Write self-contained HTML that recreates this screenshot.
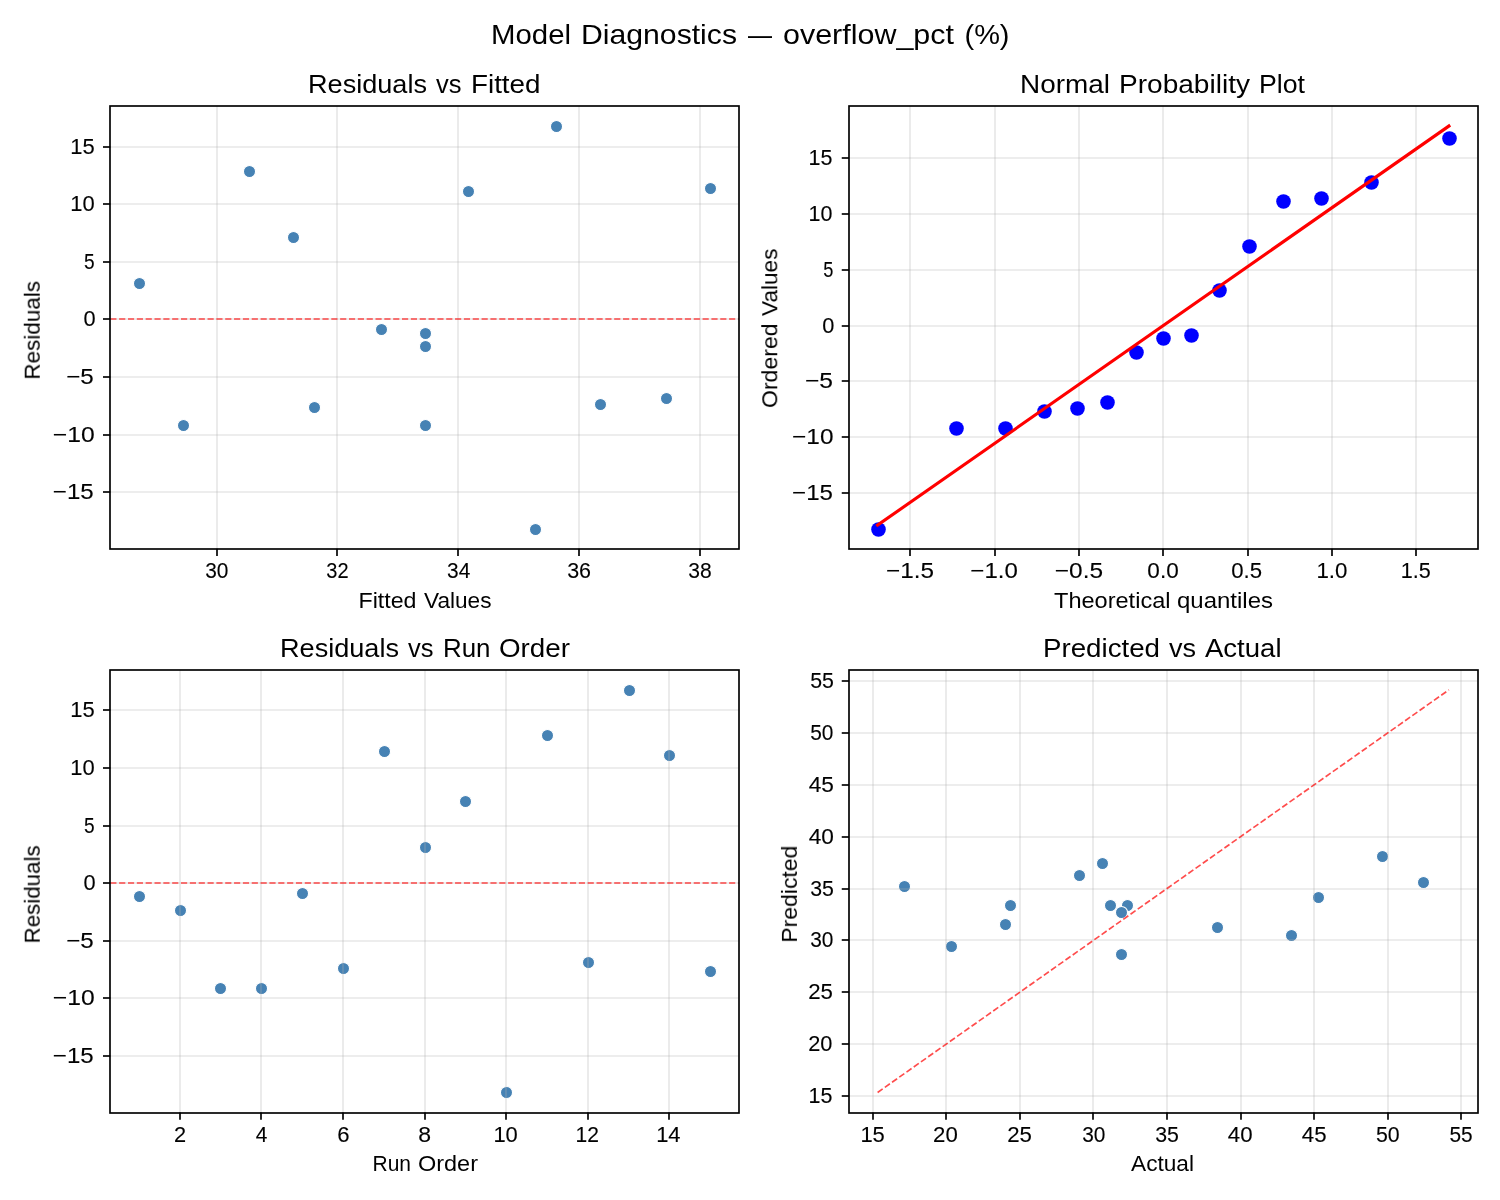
<!DOCTYPE html>
<html lang="en"><head><meta charset="utf-8"><title>Model Diagnostics</title>
<style>
html,body{margin:0;padding:0;background:#fff;}
body{width:1500px;height:1200px;overflow:hidden;}
svg{display:block;}
text{font-family:"Liberation Sans",sans-serif;fill:#000;}
.tk{font-size:22px;stroke:#000;stroke-width:0.12px;}
.lb{font-size:21.6px;}
.tt{font-size:25.8px;}
.st{font-size:28px;}
.grid line{stroke:#b0b0b0;stroke-opacity:.3;stroke-width:1.667;}
.ticks line{stroke:#000;stroke-width:1.667;}
.frame{fill:none;stroke:#000;stroke-width:1.667;stroke-linejoin:miter;}
.sc circle{fill:#4682b4;stroke:#fff;stroke-width:1.1;}
.pp circle{fill:#00f;}
.dash{stroke:#f00;stroke-opacity:.7;stroke-width:1.667;stroke-dasharray:6.17 2.67;fill:none;}
.fit{stroke:#f00;stroke-width:3.125;stroke-linecap:square;fill:none;}
</style></head><body>
<svg width="1500" height="1200" viewBox="0 0 1500 1200">
<rect width="1500" height="1200" fill="#fff"/>
<g id="ax0">
<g class="sc"><circle cx="425.5" cy="333.5" r="6.05"/><circle cx="425.5" cy="346.5" r="6.05"/><circle cx="183.5" cy="425.5" r="6.05"/><circle cx="425.5" cy="425.5" r="6.05"/><circle cx="381.5" cy="329.5" r="6.05"/><circle cx="600.5" cy="404.5" r="6.05"/><circle cx="710.5" cy="188.5" r="6.05"/><circle cx="139.5" cy="283.5" r="6.05"/><circle cx="293.5" cy="237.5" r="6.05"/><circle cx="535.5" cy="529.5" r="6.05"/><circle cx="249.5" cy="171.5" r="6.05"/><circle cx="666.5" cy="398.5" r="6.05"/><circle cx="556.5" cy="126.5" r="6.05"/><circle cx="468.5" cy="191.5" r="6.05"/><circle cx="314.5" cy="407.5" r="6.05"/></g>
<g class="grid"><line x1="217" y1="105.9" x2="217" y2="548.78"/><line x1="337" y1="105.9" x2="337" y2="548.78"/><line x1="458" y1="105.9" x2="458" y2="548.78"/><line x1="579" y1="105.9" x2="579" y2="548.78"/><line x1="700" y1="105.9" x2="700" y2="548.78"/><line x1="110.29" y1="492" x2="738.75" y2="492"/><line x1="110.29" y1="435" x2="738.75" y2="435"/><line x1="110.29" y1="377" x2="738.75" y2="377"/><line x1="110.29" y1="319" x2="738.75" y2="319"/><line x1="110.29" y1="262" x2="738.75" y2="262"/><line x1="110.29" y1="204" x2="738.75" y2="204"/><line x1="110.29" y1="147" x2="738.75" y2="147"/></g>
<line class="dash" x1="110.29" y1="319" x2="738.75" y2="319"/>
<g class="ticks"><line x1="217" y1="548.78" x2="217" y2="556.07"/><line x1="337" y1="548.78" x2="337" y2="556.07"/><line x1="458" y1="548.78" x2="458" y2="556.07"/><line x1="579" y1="548.78" x2="579" y2="556.07"/><line x1="700" y1="548.78" x2="700" y2="556.07"/><line x1="103" y1="492" x2="110.29" y2="492"/><line x1="103" y1="435" x2="110.29" y2="435"/><line x1="103" y1="377" x2="110.29" y2="377"/><line x1="103" y1="319" x2="110.29" y2="319"/><line x1="103" y1="262" x2="110.29" y2="262"/><line x1="103" y1="204" x2="110.29" y2="204"/><line x1="103" y1="147" x2="110.29" y2="147"/></g>
<rect class="frame" x="110" y="106" width="629" height="443"/>
</g>
<g id="ax1">
<g class="grid"><line x1="910" y1="105.9" x2="910" y2="548.78"/><line x1="995" y1="105.9" x2="995" y2="548.78"/><line x1="1079" y1="105.9" x2="1079" y2="548.78"/><line x1="1163" y1="105.9" x2="1163" y2="548.78"/><line x1="1248" y1="105.9" x2="1248" y2="548.78"/><line x1="1332" y1="105.9" x2="1332" y2="548.78"/><line x1="1416" y1="105.9" x2="1416" y2="548.78"/><line x1="849.04" y1="493" x2="1477.5" y2="493"/><line x1="849.04" y1="437" x2="1477.5" y2="437"/><line x1="849.04" y1="381" x2="1477.5" y2="381"/><line x1="849.04" y1="326" x2="1477.5" y2="326"/><line x1="849.04" y1="270" x2="1477.5" y2="270"/><line x1="849.04" y1="214" x2="1477.5" y2="214"/><line x1="849.04" y1="158" x2="1477.5" y2="158"/></g>
<g class="pp"><circle cx="878.5" cy="529.5" r="7.29"/><circle cx="956.5" cy="428.5" r="7.29"/><circle cx="1005.5" cy="428.5" r="7.29"/><circle cx="1044.5" cy="411.5" r="7.29"/><circle cx="1077.5" cy="408.5" r="7.29"/><circle cx="1107.5" cy="402.5" r="7.29"/><circle cx="1136.5" cy="352.5" r="7.29"/><circle cx="1163.5" cy="338.5" r="7.29"/><circle cx="1191.5" cy="335.5" r="7.29"/><circle cx="1219.5" cy="290.5" r="7.29"/><circle cx="1249.5" cy="246.5" r="7.29"/><circle cx="1283.5" cy="201.5" r="7.29"/><circle cx="1321.5" cy="198.5" r="7.29"/><circle cx="1371.5" cy="182.5" r="7.29"/><circle cx="1449.5" cy="138.5" r="7.29"/></g>
<line class="fit" x1="877.61" y1="525.12" x2="1448.93" y2="126.03"/>
<g class="ticks"><line x1="910" y1="548.78" x2="910" y2="556.07"/><line x1="995" y1="548.78" x2="995" y2="556.07"/><line x1="1079" y1="548.78" x2="1079" y2="556.07"/><line x1="1163" y1="548.78" x2="1163" y2="556.07"/><line x1="1248" y1="548.78" x2="1248" y2="556.07"/><line x1="1332" y1="548.78" x2="1332" y2="556.07"/><line x1="1416" y1="548.78" x2="1416" y2="556.07"/><line x1="841.75" y1="493" x2="849.04" y2="493"/><line x1="841.75" y1="437" x2="849.04" y2="437"/><line x1="841.75" y1="381" x2="849.04" y2="381"/><line x1="841.75" y1="326" x2="849.04" y2="326"/><line x1="841.75" y1="270" x2="849.04" y2="270"/><line x1="841.75" y1="214" x2="849.04" y2="214"/><line x1="841.75" y1="158" x2="849.04" y2="158"/></g>
<rect class="frame" x="849" y="106" width="629" height="443"/>
</g>
<g id="ax2">
<g class="sc"><circle cx="139.5" cy="896.5" r="6.05"/><circle cx="180.5" cy="910.5" r="6.05"/><circle cx="220.5" cy="988.5" r="6.05"/><circle cx="261.5" cy="988.5" r="6.05"/><circle cx="302.5" cy="893.5" r="6.05"/><circle cx="343.5" cy="968.5" r="6.05"/><circle cx="384.5" cy="751.5" r="6.05"/><circle cx="425.5" cy="847.5" r="6.05"/><circle cx="465.5" cy="801.5" r="6.05"/><circle cx="506.5" cy="1092.5" r="6.05"/><circle cx="547.5" cy="735.5" r="6.05"/><circle cx="588.5" cy="962.5" r="6.05"/><circle cx="629.5" cy="690.5" r="6.05"/><circle cx="669.5" cy="755.5" r="6.05"/><circle cx="710.5" cy="971.5" r="6.05"/></g>
<g class="grid"><line x1="180" y1="669.7" x2="180" y2="1112.58"/><line x1="261" y1="669.7" x2="261" y2="1112.58"/><line x1="343" y1="669.7" x2="343" y2="1112.58"/><line x1="425" y1="669.7" x2="425" y2="1112.58"/><line x1="506" y1="669.7" x2="506" y2="1112.58"/><line x1="588" y1="669.7" x2="588" y2="1112.58"/><line x1="669" y1="669.7" x2="669" y2="1112.58"/><line x1="110.29" y1="1056" x2="738.75" y2="1056"/><line x1="110.29" y1="998" x2="738.75" y2="998"/><line x1="110.29" y1="941" x2="738.75" y2="941"/><line x1="110.29" y1="883" x2="738.75" y2="883"/><line x1="110.29" y1="826" x2="738.75" y2="826"/><line x1="110.29" y1="768" x2="738.75" y2="768"/><line x1="110.29" y1="710" x2="738.75" y2="710"/></g>
<line class="dash" x1="110.29" y1="883" x2="738.75" y2="883"/>
<g class="ticks"><line x1="180" y1="1112.58" x2="180" y2="1119.87"/><line x1="261" y1="1112.58" x2="261" y2="1119.87"/><line x1="343" y1="1112.58" x2="343" y2="1119.87"/><line x1="425" y1="1112.58" x2="425" y2="1119.87"/><line x1="506" y1="1112.58" x2="506" y2="1119.87"/><line x1="588" y1="1112.58" x2="588" y2="1119.87"/><line x1="669" y1="1112.58" x2="669" y2="1119.87"/><line x1="103" y1="1056" x2="110.29" y2="1056"/><line x1="103" y1="998" x2="110.29" y2="998"/><line x1="103" y1="941" x2="110.29" y2="941"/><line x1="103" y1="883" x2="110.29" y2="883"/><line x1="103" y1="826" x2="110.29" y2="826"/><line x1="103" y1="768" x2="110.29" y2="768"/><line x1="103" y1="710" x2="110.29" y2="710"/></g>
<rect class="frame" x="110" y="670" width="629" height="443"/>
</g>
<g id="ax3">
<g class="sc"><circle cx="1127.5" cy="905.5" r="6.05"/><circle cx="1110.5" cy="905.5" r="6.05"/><circle cx="951.5" cy="946.5" r="6.05"/><circle cx="1010.5" cy="905.5" r="6.05"/><circle cx="1121.5" cy="912.5" r="6.05"/><circle cx="1079.5" cy="875.5" r="6.05"/><circle cx="1382.5" cy="856.5" r="6.05"/><circle cx="1121.5" cy="954.5" r="6.05"/><circle cx="1217.5" cy="927.5" r="6.05"/><circle cx="904.5" cy="886.5" r="6.05"/><circle cx="1291.5" cy="935.5" r="6.05"/><circle cx="1102.5" cy="863.5" r="6.05"/><circle cx="1423.5" cy="882.5" r="6.05"/><circle cx="1318.5" cy="897.5" r="6.05"/><circle cx="1005.5" cy="924.5" r="6.05"/></g>
<g class="grid"><line x1="873" y1="669.7" x2="873" y2="1112.58"/><line x1="946" y1="669.7" x2="946" y2="1112.58"/><line x1="1020" y1="669.7" x2="1020" y2="1112.58"/><line x1="1093" y1="669.7" x2="1093" y2="1112.58"/><line x1="1167" y1="669.7" x2="1167" y2="1112.58"/><line x1="1241" y1="669.7" x2="1241" y2="1112.58"/><line x1="1314" y1="669.7" x2="1314" y2="1112.58"/><line x1="1388" y1="669.7" x2="1388" y2="1112.58"/><line x1="1461" y1="669.7" x2="1461" y2="1112.58"/><line x1="849.04" y1="1096" x2="1477.5" y2="1096"/><line x1="849.04" y1="1044" x2="1477.5" y2="1044"/><line x1="849.04" y1="992" x2="1477.5" y2="992"/><line x1="849.04" y1="940" x2="1477.5" y2="940"/><line x1="849.04" y1="889" x2="1477.5" y2="889"/><line x1="849.04" y1="837" x2="1477.5" y2="837"/><line x1="849.04" y1="785" x2="1477.5" y2="785"/><line x1="849.04" y1="733" x2="1477.5" y2="733"/><line x1="849.04" y1="681" x2="1477.5" y2="681"/></g>
<line class="dash" x1="877.61" y1="1092.45" x2="1448.93" y2="689.83"/>
<g class="ticks"><line x1="873" y1="1112.58" x2="873" y2="1119.87"/><line x1="946" y1="1112.58" x2="946" y2="1119.87"/><line x1="1020" y1="1112.58" x2="1020" y2="1119.87"/><line x1="1093" y1="1112.58" x2="1093" y2="1119.87"/><line x1="1167" y1="1112.58" x2="1167" y2="1119.87"/><line x1="1241" y1="1112.58" x2="1241" y2="1119.87"/><line x1="1314" y1="1112.58" x2="1314" y2="1119.87"/><line x1="1388" y1="1112.58" x2="1388" y2="1119.87"/><line x1="1461" y1="1112.58" x2="1461" y2="1119.87"/><line x1="841.75" y1="1096" x2="849.04" y2="1096"/><line x1="841.75" y1="1044" x2="849.04" y2="1044"/><line x1="841.75" y1="992" x2="849.04" y2="992"/><line x1="841.75" y1="940" x2="849.04" y2="940"/><line x1="841.75" y1="889" x2="849.04" y2="889"/><line x1="841.75" y1="837" x2="849.04" y2="837"/><line x1="841.75" y1="785" x2="849.04" y2="785"/><line x1="841.75" y1="733" x2="849.04" y2="733"/><line x1="841.75" y1="681" x2="849.04" y2="681"/></g>
<rect class="frame" x="849" y="670" width="629" height="443"/>
</g>
<g id="labels" opacity="0.999">
<text id="a0x0" class="tk" x="205.14" y="578.37" textLength="23.25" lengthAdjust="spacingAndGlyphs">30</text>
<text id="a0x1" class="tk" x="326.34" y="578.37" textLength="22.25" lengthAdjust="spacingAndGlyphs">32</text>
<text id="a0x2" class="tk" x="447.04" y="578.37" textLength="23.25" lengthAdjust="spacingAndGlyphs">34</text>
<text id="a0x3" class="tk" x="567.15" y="578.37" textLength="23.93" lengthAdjust="spacingAndGlyphs">36</text>
<text id="a0x4" class="tk" x="688.34" y="578.37" textLength="23.44" lengthAdjust="spacingAndGlyphs">38</text>
<text id="a0y0" class="tk" x="52.83" y="499.39" textLength="40.88" lengthAdjust="spacingAndGlyphs">−15</text>
<text id="a0y1" class="tk" x="52.83" y="442.3" textLength="41.88" lengthAdjust="spacingAndGlyphs">−10</text>
<text id="a0y2" class="tk" x="66.15" y="384.46" textLength="27.56" lengthAdjust="spacingAndGlyphs">−5</text>
<text id="a0y3" class="tk" x="83.58" y="326.37" textLength="12.13" lengthAdjust="spacingAndGlyphs">0</text>
<text id="a0y4" class="tk" x="84.08" y="269.28" textLength="10.63" lengthAdjust="spacingAndGlyphs">5</text>
<text id="a0y5" class="tk" x="70.27" y="211.44" textLength="24.44" lengthAdjust="spacingAndGlyphs">10</text>
<text id="a0y6" class="tk" x="70.27" y="154.35" textLength="24.44" lengthAdjust="spacingAndGlyphs">15</text>
<text id="a0title" class="tt" y="93.4"><tspan x="308" textLength="119" lengthAdjust="spacingAndGlyphs">Residuals</tspan> <tspan x="436" textLength="25.5" lengthAdjust="spacingAndGlyphs">vs</tspan> <tspan x="471" textLength="69.5" lengthAdjust="spacingAndGlyphs">Fitted</tspan></text>
<text id="a0xl" class="lb" y="607.7"><tspan x="358.5" textLength="58" lengthAdjust="spacingAndGlyphs">Fitted</tspan> <tspan x="424" textLength="67.5" lengthAdjust="spacingAndGlyphs">Values</tspan></text>
<text id="a0yl" class="lb" transform="translate(39.75 379.65) rotate(-90)" textLength="98.62" lengthAdjust="spacingAndGlyphs">Residuals</text>
<text id="a1x0" class="tk" x="886.06" y="578.37" textLength="47.94" lengthAdjust="spacingAndGlyphs">−1.5</text>
<text id="a1x1" class="tk" x="970.39" y="578.37" textLength="47.44" lengthAdjust="spacingAndGlyphs">−1.0</text>
<text id="a1x2" class="tk" x="1054.82" y="578.37" textLength="48.25" lengthAdjust="spacingAndGlyphs">−0.5</text>
<text id="a1x3" class="tk" x="1147.36" y="578.37" textLength="31.32" lengthAdjust="spacingAndGlyphs">0.0</text>
<text id="a1x4" class="tk" x="1231.19" y="578.37" textLength="30.82" lengthAdjust="spacingAndGlyphs">0.5</text>
<text id="a1x5" class="tk" x="1316.43" y="578.37" textLength="31" lengthAdjust="spacingAndGlyphs">1.0</text>
<text id="a1x6" class="tk" x="1400.76" y="578.37" textLength="30" lengthAdjust="spacingAndGlyphs">1.5</text>
<text id="a1y0" class="tk" x="792.08" y="500.47" textLength="40.88" lengthAdjust="spacingAndGlyphs">−15</text>
<text id="a1y1" class="tk" x="792.08" y="444.33" textLength="41.38" lengthAdjust="spacingAndGlyphs">−10</text>
<text id="a1y2" class="tk" x="804.9" y="388.45" textLength="28.06" lengthAdjust="spacingAndGlyphs">−5</text>
<text id="a1y3" class="tk" x="822.33" y="333.31" textLength="12.13" lengthAdjust="spacingAndGlyphs">0</text>
<text id="a1y4" class="tk" x="823.33" y="277.42" textLength="10.13" lengthAdjust="spacingAndGlyphs">5</text>
<text id="a1y5" class="tk" x="808.52" y="221.29" textLength="23.94" lengthAdjust="spacingAndGlyphs">10</text>
<text id="a1y6" class="tk" x="808.52" y="165.4" textLength="23.94" lengthAdjust="spacingAndGlyphs">15</text>
<text id="a1title" class="tt" y="93.4"><tspan x="1020" textLength="90" lengthAdjust="spacingAndGlyphs">Normal</tspan> <tspan x="1119" textLength="131" lengthAdjust="spacingAndGlyphs">Probability</tspan> <tspan x="1259" textLength="46" lengthAdjust="spacingAndGlyphs">Plot</tspan></text>
<text id="a1xl" class="lb" y="607.95"><tspan x="1054" textLength="116.5" lengthAdjust="spacingAndGlyphs">Theoretical</tspan> <tspan x="1177" textLength="96" lengthAdjust="spacingAndGlyphs">quantiles</tspan></text>
<text id="a1yl" class="lb" transform="translate(777.25 407.03) rotate(-90)"><tspan x="-0.97" textLength="84.5" lengthAdjust="spacingAndGlyphs">Ordered</tspan> <tspan x="91.03" textLength="67.5" lengthAdjust="spacingAndGlyphs">Values</tspan></text>
<text id="a2x0" class="tk" x="174.1" y="1142.42" textLength="12.13" lengthAdjust="spacingAndGlyphs">2</text>
<text id="a2x1" class="tk" x="255.72" y="1142.42" textLength="11.63" lengthAdjust="spacingAndGlyphs">4</text>
<text id="a2x2" class="tk" x="337.25" y="1142.42" textLength="12.31" lengthAdjust="spacingAndGlyphs">6</text>
<text id="a2x3" class="tk" x="418.36" y="1142.42" textLength="12.82" lengthAdjust="spacingAndGlyphs">8</text>
<text id="a2x4" class="tk" x="493.42" y="1142.42" textLength="24.44" lengthAdjust="spacingAndGlyphs">10</text>
<text id="a2x5" class="tk" x="575.54" y="1142.42" textLength="23.44" lengthAdjust="spacingAndGlyphs">12</text>
<text id="a2x6" class="tk" x="656.16" y="1142.42" textLength="24.43" lengthAdjust="spacingAndGlyphs">14</text>
<text id="a2y0" class="tk" x="52.83" y="1063.44" textLength="40.88" lengthAdjust="spacingAndGlyphs">−15</text>
<text id="a2y1" class="tk" x="52.83" y="1005.35" textLength="41.88" lengthAdjust="spacingAndGlyphs">−10</text>
<text id="a2y2" class="tk" x="66.15" y="948.26" textLength="27.56" lengthAdjust="spacingAndGlyphs">−5</text>
<text id="a2y3" class="tk" x="83.58" y="890.42" textLength="12.13" lengthAdjust="spacingAndGlyphs">0</text>
<text id="a2y4" class="tk" x="84.08" y="833.33" textLength="10.63" lengthAdjust="spacingAndGlyphs">5</text>
<text id="a2y5" class="tk" x="70.27" y="775.49" textLength="24.44" lengthAdjust="spacingAndGlyphs">10</text>
<text id="a2y6" class="tk" x="70.27" y="717.4" textLength="24.44" lengthAdjust="spacingAndGlyphs">15</text>
<text id="a2title" class="tt" y="657.2"><tspan x="280" textLength="119" lengthAdjust="spacingAndGlyphs">Residuals</tspan> <tspan x="408" textLength="25.5" lengthAdjust="spacingAndGlyphs">vs</tspan> <tspan x="443" textLength="47.5" lengthAdjust="spacingAndGlyphs">Run</tspan> <tspan x="499" textLength="71" lengthAdjust="spacingAndGlyphs">Order</tspan></text>
<text id="a2xl" class="lb" y="1170.5"><tspan x="372.5" textLength="38.5" lengthAdjust="spacingAndGlyphs">Run</tspan> <tspan x="418" textLength="60" lengthAdjust="spacingAndGlyphs">Order</tspan></text>
<text id="a2yl" class="lb" transform="translate(39.75 943.45) rotate(-90)" textLength="98.12" lengthAdjust="spacingAndGlyphs">Residuals</text>
<text id="a3x0" class="tk" x="860.42" y="1142.42" textLength="24.44" lengthAdjust="spacingAndGlyphs">15</text>
<text id="a3x1" class="tk" x="933.07" y="1142.42" textLength="24.75" lengthAdjust="spacingAndGlyphs">20</text>
<text id="a3x2" class="tk" x="1007.13" y="1142.42" textLength="24.75" lengthAdjust="spacingAndGlyphs">25</text>
<text id="a3x3" class="tk" x="1082.19" y="1142.42" textLength="23.25" lengthAdjust="spacingAndGlyphs">30</text>
<text id="a3x4" class="tk" x="1155.25" y="1142.42" textLength="23.75" lengthAdjust="spacingAndGlyphs">35</text>
<text id="a3x5" class="tk" x="1227.81" y="1142.42" textLength="24.75" lengthAdjust="spacingAndGlyphs">40</text>
<text id="a3x6" class="tk" x="1301.87" y="1142.42" textLength="24.75" lengthAdjust="spacingAndGlyphs">45</text>
<text id="a3x7" class="tk" x="1375.93" y="1142.42" textLength="23.75" lengthAdjust="spacingAndGlyphs">50</text>
<text id="a3x8" class="tk" x="1449.49" y="1142.42" textLength="23.25" lengthAdjust="spacingAndGlyphs">55</text>
<text id="a3y0" class="tk" x="808.52" y="1103.45" textLength="23.94" lengthAdjust="spacingAndGlyphs">15</text>
<text id="a3y1" class="tk" x="808.21" y="1051.37" textLength="24.25" lengthAdjust="spacingAndGlyphs">20</text>
<text id="a3y2" class="tk" x="808.21" y="999.28" textLength="24.75" lengthAdjust="spacingAndGlyphs">25</text>
<text id="a3y3" class="tk" x="810.21" y="947.44" textLength="23.25" lengthAdjust="spacingAndGlyphs">30</text>
<text id="a3y4" class="tk" x="810.21" y="896.35" textLength="23.75" lengthAdjust="spacingAndGlyphs">35</text>
<text id="a3y5" class="tk" x="808.71" y="844.26" textLength="25.25" lengthAdjust="spacingAndGlyphs">40</text>
<text id="a3y6" class="tk" x="808.71" y="792.42" textLength="25.25" lengthAdjust="spacingAndGlyphs">45</text>
<text id="a3y7" class="tk" x="810.21" y="740.34" textLength="23.25" lengthAdjust="spacingAndGlyphs">50</text>
<text id="a3y8" class="tk" x="810.21" y="688.25" textLength="23.75" lengthAdjust="spacingAndGlyphs">55</text>
<text id="a3title" class="tt" y="657.2"><tspan x="1043" textLength="117" lengthAdjust="spacingAndGlyphs">Predicted</tspan> <tspan x="1169" textLength="27" lengthAdjust="spacingAndGlyphs">vs</tspan> <tspan x="1205" textLength="76.5" lengthAdjust="spacingAndGlyphs">Actual</tspan></text>
<text id="a3xl" class="lb" x="1131.05" y="1170.5" textLength="62.94" lengthAdjust="spacingAndGlyphs">Actual</text>
<text id="a3yl" class="lb" transform="translate(796.94 942.67) rotate(-90)" textLength="97.06" lengthAdjust="spacingAndGlyphs">Predicted</text>
<text id="suptitle" class="st" y="43.9"><tspan x="491" textLength="80" lengthAdjust="spacingAndGlyphs">Model</tspan> <tspan x="581" textLength="156" lengthAdjust="spacingAndGlyphs">Diagnostics</tspan> <tspan x="748" textLength="24" lengthAdjust="spacingAndGlyphs">—</tspan> <tspan x="783" textLength="171" lengthAdjust="spacingAndGlyphs">overflow_pct</tspan> <tspan x="964.5" textLength="45" lengthAdjust="spacingAndGlyphs">(%)</tspan></text>
</g>
</svg></body></html>
